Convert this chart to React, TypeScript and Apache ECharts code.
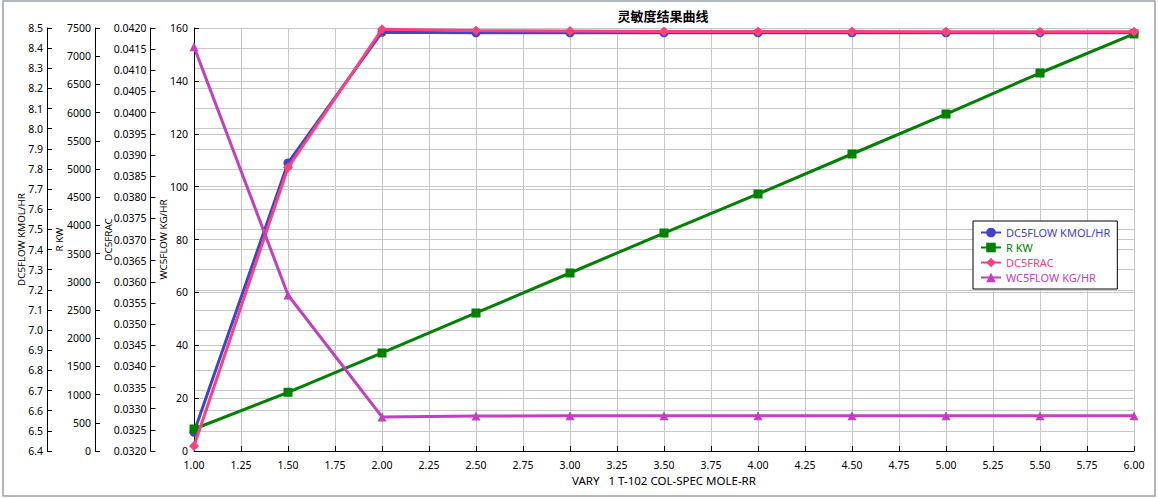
import React, { useEffect, useRef } from "react";
import * as echarts from "echarts";

const rr = [1.0, 1.5, 2.0, 2.5, 3.0, 3.5, 4.0, 4.5, 5.0, 5.5, 6.0];
const dc5flow = [6.493, 7.83, 8.479, 8.476, 8.476, 8.476, 8.476, 8.476, 8.476, 8.476, 8.476];
const rkw = [390, 1041, 1738, 2447, 3156, 3865, 4557, 5266, 5975, 6702, 7394];
const dc5frac = [0.03212, 0.0387, 0.04197, 0.04194, 0.04193, 0.04192, 0.04192, 0.04192, 0.04191, 0.04191, 0.04191];
const wc5flow = [152.9, 59.0, 12.9, 13.2, 13.3, 13.3, 13.3, 13.3, 13.3, 13.3, 13.3];

const seriesNames = ["DC5FLOW KMOL/HR", "R KW", "DC5FRAC", "WC5FLOW KG/HR"];
const seriesColors = ["#4343c6", "#008000", "#ff4080", "#c040c0"];
const seriesSymbols = ["circle", "rect", "diamond", "triangle"];
const seriesSymbolSizes = [9, 9, 10, 9];
const seriesData = [dc5flow, rkw, dc5frac, wc5flow];

const title = "灵敏度结果曲线";
const xName = "VARY   1 T-102 COL-SPEC MOLE-RR";

const FONT = "'Noto Sans', 'Open Sans', sans-serif";

export default function App() {
  const ref = useRef<HTMLDivElement>(null);
  useEffect(() => {
    document.body.style.margin = "0";
    const chart = echarts.init(ref.current!, undefined, { renderer: "svg" });
    const axisBase = (name: string, min: number, max: number, interval: number, offset: number, nameGap: number, digits: number, split: boolean, labelMargin: number) => ({
      type: "value",
      position: "left",
      offset,
      min,
      max,
      interval,
      name,
      nameLocation: "middle",
      nameRotate: 90,
      nameGap,
      nameMoveOverlap: false,
      nameTextStyle: { color: "#000", fontSize: 9.8, fontFamily: FONT },
      axisLine: { show: true, lineStyle: { color: "#000", width: 1 } },
      axisTick: { show: true, inside: true, length: 5, lineStyle: { color: "#000" } },
      axisLabel: {
        color: "#000",
        fontSize: 10.5,
        fontFamily: FONT,
        margin: labelMargin,
        formatter: (v: number) => v.toFixed(digits),
      },
      splitLine: { show: split, lineStyle: { color: "#c8c8c8", width: 1 } },
    });
    chart.setOption({
      animation: false,
      textStyle: { fontFamily: FONT },
      graphic: [
        {
          type: "rect",
          shape: { x: 3, y: 1, width: 1152, height: 495 },
          style: { fill: "none", stroke: "#9aa0a8", lineWidth: 1.5 },
          silent: true,
        },
        {
          type: "text",
          x: 663,
          y: 9,
          style: {
            text: title,
            textAlign: "center",
            fill: "#000",
            font: "bold 13px 'Noto Sans CJK SC', sans-serif",
          },
        },
      ],
      grid: { left: 194, right: 24, top: 28, bottom: 47, containLabel: false },
      legend: {
        orient: "vertical",
        left: 973,
        top: 221,
        backgroundColor: "#fff",
        borderColor: "#000",
        borderWidth: 1,
        borderRadius: 0,
        padding: [6, 7, 6, 7],
        itemGap: 4,
        itemWidth: 20,
        itemHeight: 12,
        data: seriesNames.map((n, i) => ({ name: n, textStyle: { color: seriesColors[i], fontSize: 11, fontFamily: FONT } })),
      },
      xAxis: {
        type: "value",
        min: 1,
        max: 6,
        interval: 0.25,
        name: xName,
        nameLocation: "middle",
        nameGap: 23,
        nameMoveOverlap: false,
        nameTextStyle: { color: "#000", fontSize: 11.5, fontFamily: FONT },
        axisLine: { show: true, lineStyle: { color: "#000" } },
        axisTick: { show: true, inside: true, length: 5, lineStyle: { color: "#000" } },
        axisLabel: { color: "#000", fontSize: 10.5, fontFamily: FONT, margin: 8, formatter: (v: number) => v.toFixed(2) },
        splitLine: { show: true, lineStyle: { color: "#c8c8c8", width: 1 } },
      },
      yAxis: [
        axisBase("DC5FLOW KMOL/HR", 6.4, 8.5, 0.1, 147, 20.5, 1, true, 4),
        axisBase("R KW", 0, 7500, 500, 99, 31, 0, false, 4),
        axisBase("DC5FRAC", 0.032, 0.042, 0.0005, 43.5, 37.5, 4, false, 4),
        axisBase("WC5FLOW KG/HR", 0, 160, 20, 0, 25.5, 0, true, 6),
      ],
      series: seriesNames.map((n, i) => ({
        name: n,
        type: "line",
        yAxisIndex: i,
        data: rr.map((x, j) => [x, seriesData[i][j]]),
        symbol: seriesSymbols[i],
        symbolSize: seriesSymbolSizes[i],
        showAllSymbol: true,
        lineStyle: { color: seriesColors[i], width: 3 },
        itemStyle: { color: seriesColors[i] },
        z: 2 + i,
      })),
    });
    return () => chart.dispose();
  }, []);
  return <div ref={ref} style={{ width: 1158, height: 498 }} />;
}
